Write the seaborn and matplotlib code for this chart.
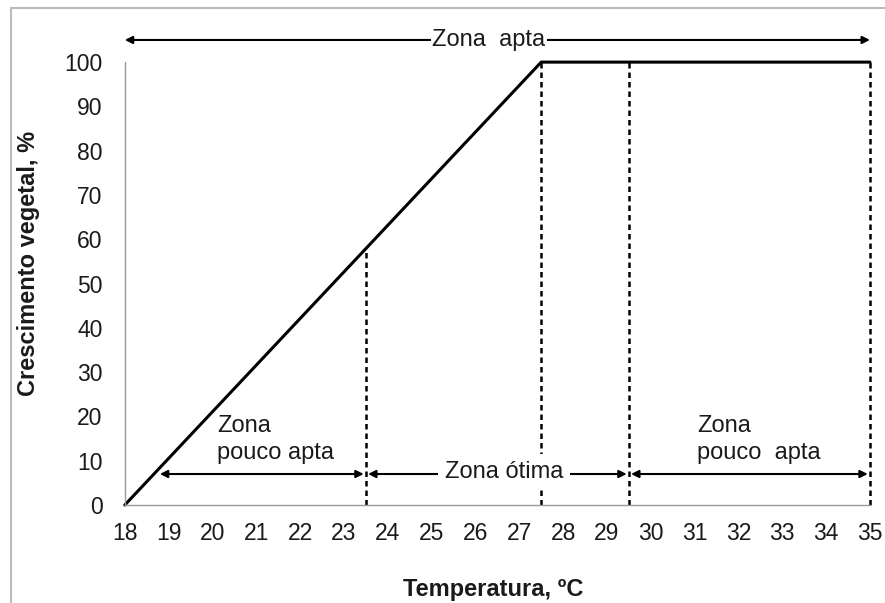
import numpy as np
import pandas as pd
import matplotlib.pyplot as plt
import seaborn as sns
from matplotlib.lines import Line2D

# Curve of plant growth versus temperature
temperatura = [18, 27.5, 35]
crescimento = [0, 100, 100]

# Zone boundaries (dashed verticals) and their heights
limites_x = [23.5, 27.5, 29.5, 35]
limites_y = [58, 100, 100, 100]

x_ticks = list(range(18, 36))
y_ticks = list(range(0, 101, 10))

sns.set_style("white")
plt.rcParams['font.family'] = ['Liberation Sans', 'DejaVu Sans']

fig = plt.figure(figsize=(8.85, 6.03), dpi=100)
ax = fig.add_axes([0.141, 0.1625, 0.842, 0.7345])

df = pd.DataFrame({"Temperatura": temperatura, "Crescimento": crescimento})
sns.lineplot(data=df, x="Temperatura", y="Crescimento", ax=ax,
             color="black", linewidth=2.2, clip_on=False)

for xv, yv in zip(limites_x, limites_y):
    ax.plot([xv, xv], [0, yv], color="black", linestyle=(0, (2.2, 1.6)),
            linewidth=1.8, clip_on=False, zorder=1)

ax.set_xlim(18, 35)
ax.set_ylim(0, 100)
ax.set_xticks(x_ticks)
ax.set_yticks(y_ticks)
ax.tick_params(axis="both", labelsize=16.5, direction="out", length=5,
               color="#999999", width=1, labelcolor="#1a1a1a")
ax.tick_params(axis="x", pad=7)
ax.tick_params(axis="y", pad=11)
sns.despine(ax=ax)
for s in ["left", "bottom"]:
    ax.spines[s].set_color("#999999")
    ax.spines[s].set_linewidth(1)

ax.set_xlabel("Temperatura, ºC", fontsize=17, fontweight="bold", color="#1a1a1a")
ax.set_ylabel("Crescimento vegetal, %", fontsize=17, fontweight="bold", color="#1a1a1a")
ax.xaxis.set_label_coords(0.495, -0.165)
ax.yaxis.set_label_coords(-0.114, 0.545)

arrow = dict(arrowstyle="<|-|>", color="black", lw=1.5, mutation_scale=11,
             shrinkA=0, shrinkB=0)
txt = dict(fontsize=17, color="#1a1a1a")

# Top arrow: Zona apta
ax.annotate("", xy=(18, 105), xytext=(35, 105), arrowprops=arrow,
            annotation_clip=False)
ax.text(26.3, 105, "Zona  apta", ha="center", va="center", clip_on=False,
        bbox=dict(facecolor="white", edgecolor="none", pad=1), **txt)

# Bottom arrows
ax.annotate("", xy=(18.8, 7), xytext=(23.45, 7), arrowprops=arrow)
ax.annotate("", xy=(23.55, 7), xytext=(29.45, 7), arrowprops=arrow)
ax.annotate("", xy=(29.55, 7), xytext=(34.95, 7), arrowprops=arrow)

ax.text(20.1, 14.8, "Zona\npouco apta", ha="left", va="center",
        linespacing=1.3, **txt)
ax.text(26.65, 7.5, "Zona ótima", ha="center", va="center", zorder=5,
        bbox=dict(facecolor="white", edgecolor="none", pad=5), **txt)
ax.text(31.05, 14.8, "Zona\npouco  apta", ha="left", va="center",
        linespacing=1.3, **txt)

# Outer frame of the original figure
fig.add_artist(Line2D([11 / 885, 1], [1 - 8 / 603, 1 - 8 / 603],
                      transform=fig.transFigure, color="#bbbbbb", lw=1.5))
fig.add_artist(Line2D([11 / 885, 11 / 885], [0, 1 - 8 / 603],
                      transform=fig.transFigure, color="#bbbbbb", lw=1.5))

plt.savefig("out.png", dpi=100)
